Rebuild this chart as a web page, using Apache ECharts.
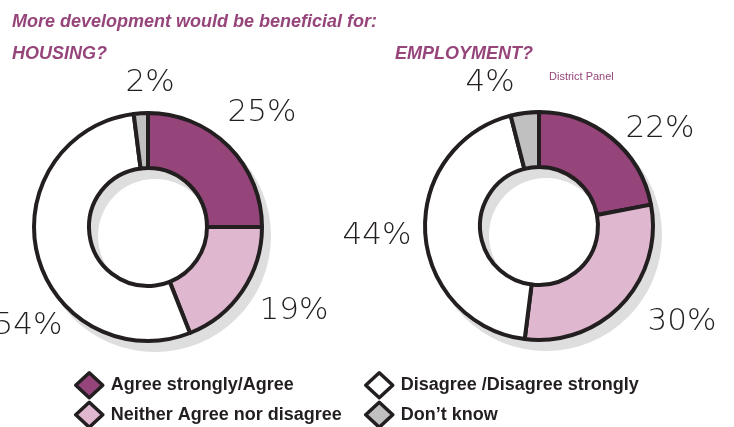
<!DOCTYPE html>
<html>
<head>
<meta charset="utf-8">
<script src="https://cdn.jsdelivr.net/npm/echarts@6/dist/echarts.min.js"></script>
<style>html,body{margin:0;padding:0;background:#fff}#c{width:734px;height:427px}</style>
</head>
<body>
<div id="c"></div>
<script>
const categories = ['Agree strongly/Agree', 'Neither Agree nor disagree', 'Disagree /Disagree strongly', 'Don\u2019t know'];
const housingValues = [25, 19, 54, 2];
const employmentValues = [22, 30, 44, 4];
const colors = ['#96457a', '#dfb8cf', '#ffffff', '#c0c0c0'];
const chartTitles = ['HOUSING?', 'EMPLOYMENT?'];

const PURPLE = '#96457a';
const EDGE = '#231f20';
const centers = [[148, 227], [539, 226]];
const radius = [59, 114];
const shadowOffset = [7, 9];
// label offsets from each pie's centre (layout only)
const labelOffsets = [
  [[114, -114], [146, 84], [-120, 99], [2, -144]],
  [[121, -97], [143, 96], [-162, 10], [-49, -143]]
];

function donut(values, idx) {
  return {
    type: 'pie',
    name: chartTitles[idx],
    center: centers[idx],
    radius: radius,
    startAngle: 90,
    clockwise: true,
    z: 3,
    silent: true,
    avoidLabelOverlap: false,
    itemStyle: { borderColor: EDGE, borderWidth: 4 },
    label: {
      show: true,
      position: 'outside',
      formatter: '{c}%',
      fontFamily: 'DejaVu Sans',
      fontWeight: 200,
      fontSize: 31,
      color: '#231f20'
    },
    labelLine: { show: false },
    labelLayout: function (p) {
      const o = labelOffsets[idx][p.dataIndex];
      return { x: centers[idx][0] + o[0], y: centers[idx][1] + o[1], align: 'center', verticalAlign: 'middle' };
    },
    data: values.map((v, i) => ({ name: categories[i], value: v, itemStyle: { color: colors[i] } }))
  };
}
function shadowRing(idx) {
  return {
    type: 'pie',
    center: [centers[idx][0] + shadowOffset[0], centers[idx][1] + shadowOffset[1]],
    radius: [radius[0] - 2, radius[1] + 2],
    z: 1,
    silent: true,
    label: { show: false },
    labelLine: { show: false },
    itemStyle: { color: '#dedede', borderWidth: 0 },
    data: [{ name: '_shadow', value: 1 }]
  };
}

const chart = echarts.init(document.getElementById('c'), null, { renderer: 'canvas' });
const legendCommon = {
  orient: 'vertical',
  icon: 'diamond',
  itemWidth: 27,
  itemHeight: 25,
  itemGap: 1,
  padding: 0,
  height: 60,
  selectedMode: false,
  itemStyle: { borderColor: EDGE, borderWidth: 3.5 },
  textStyle: { fontFamily: 'Liberation Sans, Arial', fontWeight: 'bold', fontSize: 18, color: '#231f20', padding: [0, 0, 0, 3] }
};
chart.setOption({
  animation: false,
  title: [
    { text: 'More development would be beneficial for:', left: 7, top: 8,
      textStyle: { fontFamily: 'Liberation Sans, Arial', fontStyle: 'italic', fontWeight: 'bold', fontSize: 18, color: PURPLE } },
    { text: chartTitles[0], left: 7, top: 40,
      textStyle: { fontFamily: 'Liberation Sans, Arial', fontStyle: 'italic', fontWeight: 'bold', fontSize: 18, color: PURPLE } },
    { text: chartTitles[1], left: 390, top: 40,
      textStyle: { fontFamily: 'Liberation Sans, Arial', fontStyle: 'italic', fontWeight: 'bold', fontSize: 18, color: PURPLE } },
    { text: 'District Panel', left: 544, top: 66,
      textStyle: { fontFamily: 'Liberation Sans, Arial', fontWeight: 'normal', fontSize: 11, color: PURPLE } }
  ],
  legend: [
    Object.assign({}, legendCommon, { left: 74, top: 371, data: [categories[0], categories[1]] }),
    Object.assign({}, legendCommon, { left: 364, top: 371, data: [categories[2], categories[3]] })
  ],
  series: [shadowRing(0), shadowRing(1), donut(housingValues, 0), donut(employmentValues, 1)]
});
</script>
</body>
</html>
